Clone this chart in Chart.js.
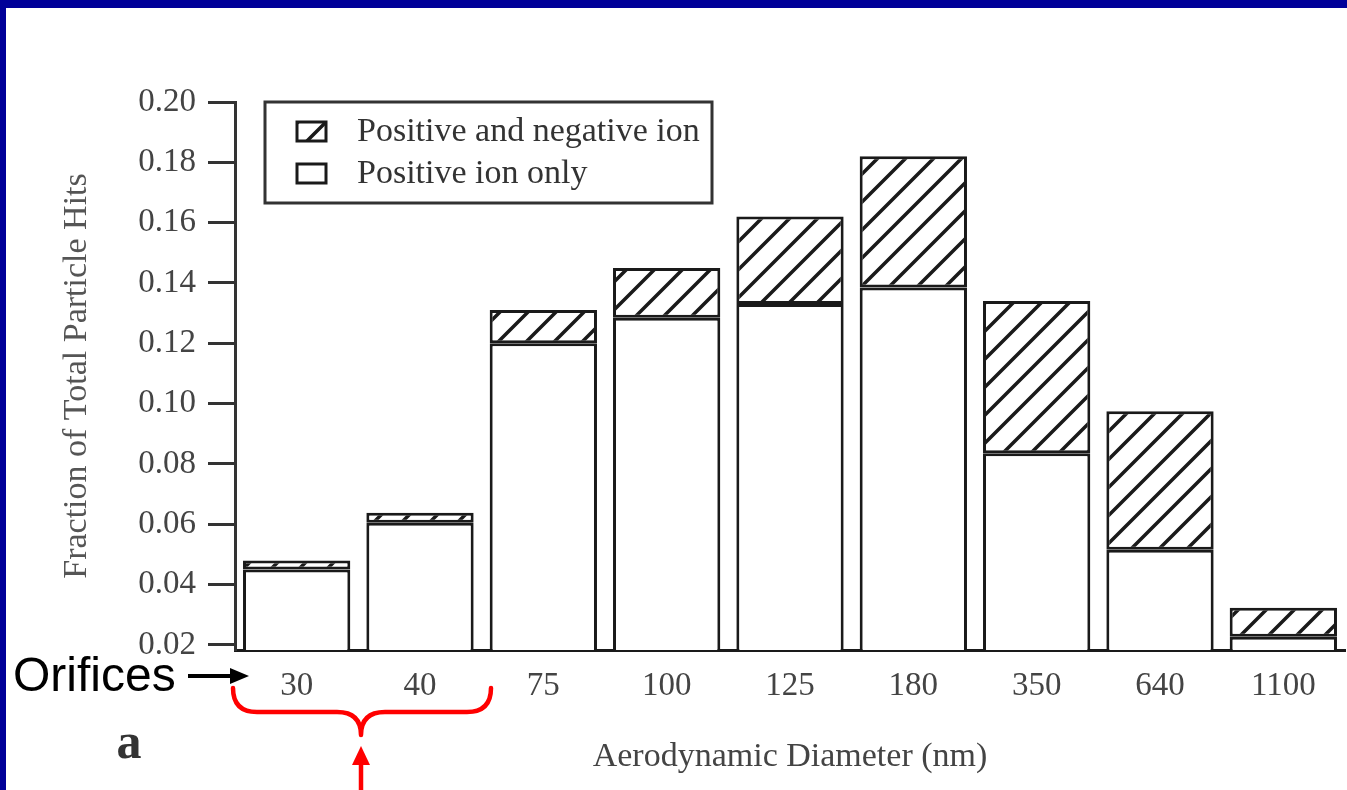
<!DOCTYPE html>
<html>
<head>
<meta charset="utf-8">
<title>Particle hits by aerodynamic diameter</title>
<script src="https://cdn.jsdelivr.net/npm/chart.js@4.4.1/dist/chart.umd.min.js"></script>
<style>
  html, body { margin: 0; padding: 0; background: #fff; }
  #wrap { width: 1347px; height: 790px; position: relative; }
</style>
</head>
<body>
<div id="wrap"><canvas id="hitsChart"></canvas></div>
<script>
const diameters = ["30", "40", "75", "100", "125", "180", "350", "640", "1100"];
const positiveOnly = [0.045, 0.0605, 0.120, 0.1285, 0.133, 0.1385, 0.0835, 0.0515, 0.0227];
const positiveNegative = [0.003, 0.0033, 0.011, 0.0165, 0.029, 0.0435, 0.0505, 0.046, 0.0096];
const yTicks = [0.02, 0.04, 0.06, 0.08, 0.10, 0.12, 0.14, 0.16, 0.18, 0.20];

const serif = "'Liberation Serif', 'Times New Roman', serif";
const ink = "#1a1a1a";

// diagonal "/" hatching used for the positive+negative part of each bar
function makeHatch() {
    const s = 28;
    const c = document.createElement("canvas");
    c.width = s; c.height = s;
    const g = c.getContext("2d");
    g.fillStyle = "#fff";
    g.fillRect(0, 0, s, s);
    g.strokeStyle = ink;
    g.lineWidth = 3.5;
    g.beginPath();
    g.moveTo(-4, s + 4); g.lineTo(s + 4, -4);
    g.moveTo(-4, 4); g.lineTo(4, -4);
    g.moveTo(s - 4, s + 4); g.lineTo(s + 4, s - 4);
    g.stroke();
    return g.createPattern(c, "repeat");
}
const hatch = makeHatch();

// white page with the dark blue slide frame on top and left
const frame = {
    id: "frame",
    beforeDraw(chart) {
        const ctx = chart.ctx;
        ctx.save();
        ctx.fillStyle = "#fff";
        ctx.fillRect(0, 0, chart.width, chart.height);
        ctx.fillStyle = "#000099";
        ctx.fillRect(0, 0, chart.width, 8);
        ctx.fillRect(0, 0, 6, chart.height);
        ctx.restore();
    }
};

// boxed legend, hatched entry first
const boxLegend = {
    id: "boxLegend",
    afterDraw(chart) {
        const ctx = chart.ctx;
        const sets = chart.data.datasets;
        ctx.save();
        ctx.strokeStyle = "#333";
        ctx.lineWidth = 3;
        ctx.strokeRect(265, 102, 447, 101);
        const rows = [
            { ds: sets[1], y: 131 },
            { ds: sets[0], y: 173 }
        ];
        rows.forEach(r => {
            ctx.fillStyle = r.ds.backgroundColor;
            ctx.fillRect(297, r.y - 9, 29, 19);
            ctx.strokeStyle = ink;
            ctx.lineWidth = 3;
            ctx.strokeRect(297, r.y - 9, 29, 19);
            ctx.fillStyle = "#333";
            ctx.font = "34px " + serif;
            ctx.textBaseline = "middle";
            ctx.textAlign = "left";
            ctx.fillText(r.ds.label, 357, r.y + 1);
        });
        ctx.restore();
    }
};

// slide annotations: "Orifices" pointer, red brace with arrow, panel letter
const notes = {
    id: "notes",
    afterDraw(chart) {
        const ctx = chart.ctx;
        ctx.save();
        ctx.fillStyle = "#000";
        ctx.font = "48px 'Liberation Sans', Arial, sans-serif";
        ctx.textBaseline = "alphabetic";
        ctx.textAlign = "left";
        ctx.fillText("Orifices", 13, 691);

        ctx.strokeStyle = "#000";
        ctx.lineWidth = 4;
        ctx.beginPath();
        ctx.moveTo(188, 676); ctx.lineTo(234, 676);
        ctx.stroke();
        ctx.beginPath();
        ctx.moveTo(249, 676); ctx.lineTo(230, 668); ctx.lineTo(230, 684);
        ctx.closePath(); ctx.fill();

        ctx.strokeStyle = "#ff0000";
        ctx.fillStyle = "#ff0000";
        ctx.lineWidth = 4.5;
        ctx.lineCap = "round";
        ctx.lineJoin = "round";
        ctx.beginPath();
        ctx.moveTo(233, 688);
        ctx.quadraticCurveTo(233, 712, 257, 712);
        ctx.lineTo(337, 712);
        ctx.quadraticCurveTo(361, 712, 361, 735);
        ctx.quadraticCurveTo(361, 712, 385, 712);
        ctx.lineTo(467, 712);
        ctx.quadraticCurveTo(491, 712, 491, 688);
        ctx.stroke();
        ctx.lineCap = "butt";
        ctx.beginPath();
        ctx.moveTo(361, 792); ctx.lineTo(361, 760);
        ctx.stroke();
        ctx.beginPath();
        ctx.moveTo(361, 746); ctx.lineTo(352, 765); ctx.lineTo(370, 765);
        ctx.closePath(); ctx.fill();

        ctx.fillStyle = "#333";
        ctx.font = "bold 50px " + serif;
        ctx.textAlign = "center";
        ctx.fillText("a", 129, 758);
        ctx.restore();
    }
};

const ctx = document.getElementById("hitsChart").getContext("2d");
new Chart(ctx, {
    type: "bar",
    data: {
        labels: diameters,
        datasets: [{
            label: "Positive ion only",
            data: positiveOnly,
            backgroundColor: "#fff",
            borderColor: ink,
            borderWidth: 3,
            borderSkipped: false
        }, {
            label: "Positive and negative ion",
            data: positiveNegative,
            backgroundColor: hatch,
            borderColor: ink,
            borderWidth: 3,
            borderSkipped: false
        }]
    },
    options: {
        responsive: true,
        maintainAspectRatio: false,
        animation: false,
        layout: { padding: { top: 102, right: 2, left: 0, bottom: 0 } },
        datasets: { bar: { categoryPercentage: 1, barPercentage: 0.87 } },
        plugins: {
            legend: { display: false },
            tooltip: { enabled: false }
        },
        scales: {
            x: {
                stacked: true,
                afterFit: s => { s.height = 140; },
                grid: { drawOnChartArea: false, drawTicks: false },
                border: { display: true, color: ink, width: 3 },
                ticks: { color: "#444", font: { family: serif, size: 33 }, padding: 17 },
                title: {
                    display: true,
                    text: "Aerodynamic Diameter (nm)",
                    color: "#444",
                    font: { family: serif, size: 34 },
                    padding: { top: 0, bottom: 13 }
                }
            },
            y: {
                stacked: true,
                min: 0.0183,
                max: 0.2,
                afterBuildTicks: s => { s.ticks = yTicks.map(v => ({ value: v })); },
                afterFit: s => { s.width = 235; },
                grid: { drawOnChartArea: false, drawTicks: true, tickLength: 27, tickWidth: 3, color: "#333" },
                border: { display: true, color: "#333", width: 3 },
                ticks: {
                    color: "#444",
                    font: { family: serif, size: 33 },
                    padding: 12,
                    autoSkip: false,
                    callback: v => v.toFixed(2)
                },
                title: {
                    display: true,
                    text: "Fraction of Total Particle Hits",
                    color: "#555",
                    font: { family: serif, size: 34 },
                    padding: { top: 57, bottom: 0 }
                }
            }
        }
    },
    plugins: [frame, boxLegend, notes]
});
</script>
</body>
</html>
